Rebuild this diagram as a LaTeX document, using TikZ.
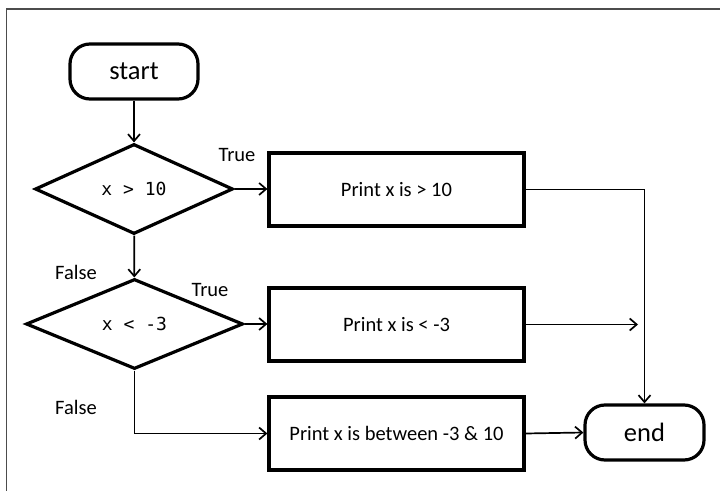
\documentclass[tikz,border=0pt]{standalone}
\usepackage{fontspec}
\setmainfont{Carlito}
\newfontfamily\monof{DejaVu Sans Mono}
\usetikzlibrary{shapes.geometric,arrows.meta}
\begin{document}
\begin{tikzpicture}[x=1bp,y=-1bp,
  term/.style={draw, line width=3.2bp, rounded corners=20bp, minimum width=#1, minimum height=55bp, inner sep=0pt, font=\fontsize{26.5bp}{30bp}\selectfont},
  decide/.style={draw, shape=diamond, line width=3.2bp, inner sep=0pt, minimum height=90bp, minimum width=#1, font=\monof\fontsize{18bp}{21bp}\selectfont},
  action/.style={draw, line width=3.2bp, minimum width=255bp, minimum height=73bp, inner sep=0pt, font=\fontsize{20.5bp}{24bp}\selectfont},
  conn/.style={line width=1.7bp, -{Straight Barb[length=7bp,width=12bp,line width=1.7bp]}},
  lbl/.style={font=\fontsize{20.5bp}{24bp}\selectfont, inner sep=0pt},
  frame/.style={draw=black!70, line width=1.8bp}]
\useasboundingbox (0,0) rectangle (720,491);
\draw[frame] (6.5,491) -- (6.5,9) -- (720,9);

\node[term=128bp] (start) at (134,71.5) {start};
\node[decide=198bp] (d1) at (134,189) {x > 10};
\node[decide=217bp] (d2) at (134.5,324) {x < -3};
\node[action] (b1) at (396.5,189.5) {Print x is > 10};
\node[action] (b2) at (396.5,324.5) {Print x is < -3};
\node[action] (b3) at (396.5,433.5) {Print x is between -3 \& 10};
\node[term=119bp] (end) at (644.5,432.5) {end};
\coordinate (b2end) at (638,324.5);

\node[lbl] (t1) at (237,155) {True};
\node[lbl] (f1) at (76,272) {False};
\node[lbl] (t2) at (210,290) {True};
\node[lbl] (f2) at (76,407) {False};

\draw[conn] (start) -- (d1);
\draw[conn] (d1.east) -- (d1.east -| b1.west);
\draw[conn] (d1) -- (d2);
\draw[conn] (d2.east) -- (d2.east -| b2.west);
\draw[conn] (d2.south) |- (b3.west);
\draw[conn] (b3.east) -- (end.west);
\draw[conn] (b1.east) -| (end.north);
\draw[conn] (b2.east) -- (b2end);
\end{tikzpicture}
\end{document}
